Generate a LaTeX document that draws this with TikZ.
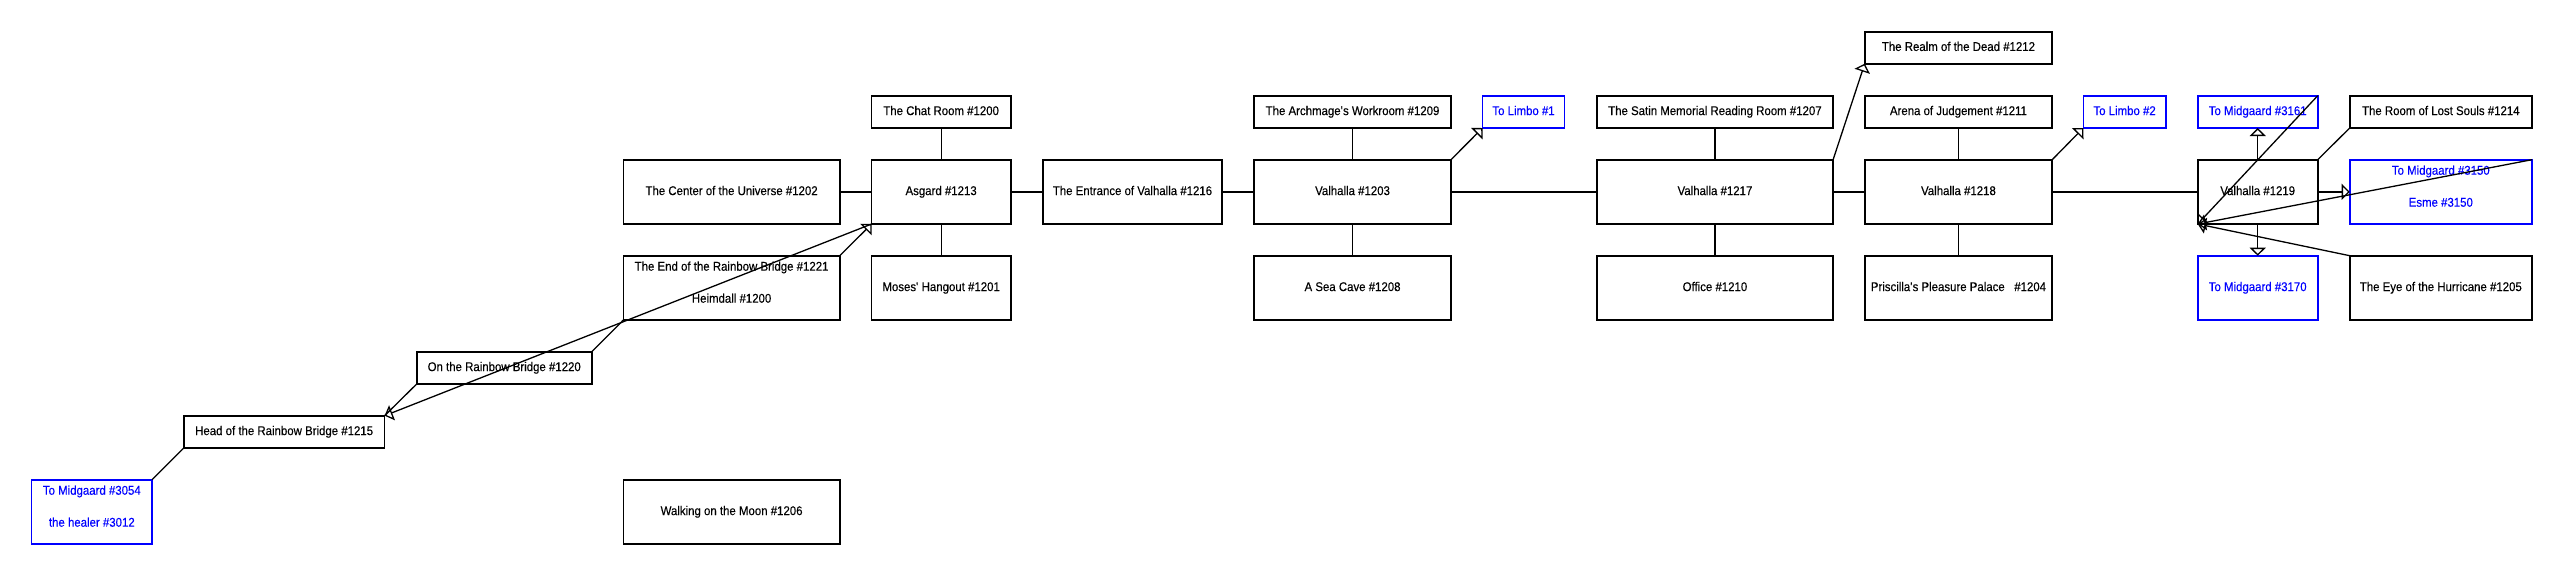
\documentclass[tikz,border=0pt]{standalone}
\usepackage{fontspec}
\setmainfont[FakeStretch=0.9,FakeBold=0.25]{Liberation Sans}
\usetikzlibrary{arrows.meta}
\definecolor{exitblue}{RGB}{0,0,255}
\newcommand\roomfont{\fontsize{12.7pt}{14pt}\selectfont}
\tikzset{
  room/.style={draw, line width=1.6pt, inner sep=0pt, outer sep=0pt,
    text height=9.1pt, text depth=2.6pt, font=\roomfont},
  exitroom/.style={room, draw=exitblue, text=exitblue},
  lbl/.style={inner sep=0pt, anchor=base, font=\roomfont},
  link/.style={line width=1.3pt},
  oneway/.style={link, -{Triangle[open,length=8pt,width=16pt]}},
}
% [style]{x1}{y1}{x2}{y2}{name}{text}
\newcommand\RoomBox[7][]{\node[room,#1,minimum width={(#4-#2)*1pt},minimum height={(#5-#3)*1pt}] (#6) at ({(#2+#4)/2},{(#3+#5)/2}) {#7};}
\begin{document}
\begin{tikzpicture}[x=1pt,y=-1pt]
\path[use as bounding box] (0,0) rectangle (2564,576);

% left part
\RoomBox[exitroom]{31.6}{479.7}{152.1}{544}{m3054}{}
\node[lbl,text=exitblue] (m3054a) at ({(31.6+152.1)/2},494.7) {To Midgaard \#3054};
\node[lbl,text=exitblue] (m3054b) at ({(31.6+152.1)/2},526.7) {the healer \#3012};
\RoomBox{183.7}{415.7}{384.6}{448}{head}{Head of the Rainbow Bridge \#1215}
\RoomBox{416.7}{351.7}{591.8}{384}{onrb}{On the Rainbow Bridge \#1220}
\RoomBox{623.4}{159.7}{839.8}{224}{cu}{The Center of the Universe \#1202}
\RoomBox{623.4}{255.7}{839.8}{320}{endrb}{}
\node[lbl] (endrba) at ({(623.4+839.8)/2},270.7) {The End of the Rainbow Bridge \#1221};
\node[lbl] (endrbb) at ({(623.4+839.8)/2},302.7) {Heimdall \#1200};
\RoomBox{623.4}{479.7}{839.8}{544}{moon}{Walking on the Moon \#1206}

% Asgard column
\RoomBox{871.6}{95.7}{1010.7}{128}{chat}{The Chat Room \#1200}
\RoomBox{871.6}{159.7}{1010.7}{224}{asg}{Asgard \#1213}
\RoomBox{871.6}{255.7}{1010.7}{320}{moses}{Moses\textquotesingle\ Hangout \#1201}
\RoomBox{1042.9}{159.7}{1222}{224}{ent}{The Entrance of Valhalla \#1216}

% Valhalla 1203 column
\RoomBox{1254.1}{95.7}{1451}{128}{arch}{The Archmage\textquotesingle s Workroom \#1209}
\RoomBox{1254.1}{159.7}{1451}{224}{v1203}{Valhalla \#1203}
\RoomBox{1254.1}{255.7}{1451}{320}{sea}{A Sea Cave \#1208}
\RoomBox[exitroom]{1482.5}{95.7}{1564.6}{128}{limbo1}{To Limbo \#1}

% Valhalla 1217 column
\RoomBox{1596.8}{95.7}{1833.1}{128}{satin}{The Satin Memorial Reading Room \#1207}
\RoomBox{1596.8}{159.7}{1833.1}{224}{v1217}{Valhalla \#1217}
\RoomBox{1596.8}{255.7}{1833.1}{320}{office}{Office \#1210}

% Valhalla 1218 column
\RoomBox{1864.7}{31.7}{2052.2}{63.7}{realm}{The Realm of the Dead \#1212}
\RoomBox{1864.7}{95.7}{2052.2}{128}{arena}{Arena of Judgement \#1211}
\RoomBox{1864.7}{159.7}{2052.2}{224}{v1218}{Valhalla \#1218}
\RoomBox{1864.7}{255.7}{2052.2}{320}{pris}{Priscilla\textquotesingle s Pleasure Palace\ \ \ \#1204}
\RoomBox[exitroom]{2083.3}{95.7}{2165.9}{128}{limbo2}{To Limbo \#2}

% Valhalla 1219 column
\RoomBox[exitroom]{2197.7}{95.7}{2317.7}{128}{m3161}{To Midgaard \#3161}
\RoomBox{2197.7}{159.7}{2317.7}{224}{v1219}{Valhalla \#1219}
\RoomBox[exitroom]{2197.7}{255.7}{2317.7}{320}{m3170}{To Midgaard \#3170}

% last column
\RoomBox{2349.7}{95.7}{2531.9}{128}{lost}{The Room of Lost Souls \#1214}
\RoomBox[exitroom]{2349.7}{159.7}{2531.9}{224}{m3150}{}
\node[lbl,text=exitblue] (m3150a) at ({(2349.7+2531.9)/2},174.7) {To Midgaard \#3150};
\node[lbl,text=exitblue] (m3150b) at ({(2349.7+2531.9)/2},206.7) {Esme \#3150};
\RoomBox{2349.7}{255.7}{2531.9}{320}{eye}{The Eye of the Hurricane \#1205}

% connectors
\draw[link] (head.south west) -- (m3054.north east);
\draw[link] (onrb.south west) -- (head.north east);
\draw[link] (onrb.north east) -- (endrb.south west);
\draw[oneway] (asg.south west) -- (head.north east);
\draw[oneway] (endrb.north east) -- (asg.south west);
\draw[link] (cu.east) -- (asg.west);
\draw[link] (chat.south) -- (asg.north);
\draw[link] (asg.south) -- (moses.north);
\draw[link] (asg.east) -- (ent.west);
\draw[link] (ent.east) -- (v1203.west);
\draw[link] (arch.south) -- (v1203.north);
\draw[link] (v1203.south) -- (sea.north);
\draw[oneway] (v1203.north east) -- (limbo1.south west);
\draw[link] (v1203.east) -- (v1217.west);
\draw[link] (satin.south) -- (v1217.north);
\draw[link] (v1217.south) -- (office.north);
\draw[oneway] (v1217.north east) -- (realm.south west);
\draw[link] (v1217.east) -- (v1218.west);
\draw[link] (arena.south) -- (v1218.north);
\draw[link] (v1218.south) -- (pris.north);
\draw[oneway] (v1218.north east) -- (limbo2.south west);
\draw[link] (v1218.east) -- (v1219.west);
\draw[oneway] (v1219.north) -- (m3161.south);
\draw[oneway] (v1219.south) -- (m3170.north);
\draw[oneway] (v1219.east) -- (m3150.west);
\draw[link] (lost.south west) -- (v1219.north east);
\draw[oneway] (m3161.north east) -- (v1219.south west);
\draw[oneway] (m3150.north east) -- (v1219.south west);
\draw[oneway] (eye.north west) -- (v1219.south west);
\end{tikzpicture}
\end{document}
